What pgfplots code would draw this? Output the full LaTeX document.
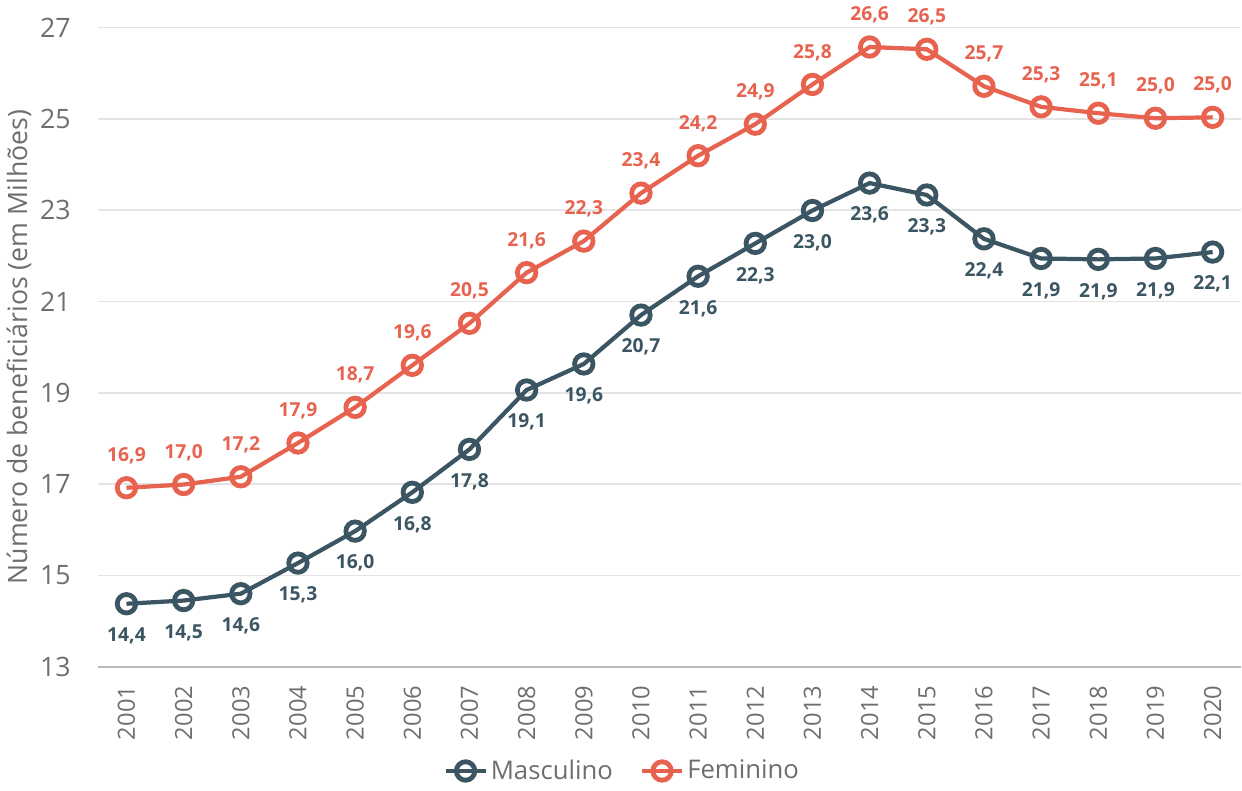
\documentclass[border=0pt]{standalone}
\usepackage{pgfplots}
\pgfplotsset{compat=1.18}
\usepackage{fontspec}
\setmainfont{Open Sans}
\definecolor{masc}{RGB}{59,85,99}
\definecolor{fem}{RGB}{231,99,79}
\definecolor{txtgray}{RGB}{110,110,110}
\definecolor{gridgray}{RGB}{228,228,228}
\begin{document}
\begin{tikzpicture}
\begin{axis}[
  scale only axis,
  width=569.5bp, height=318.5bp,
  xmin=0.5, xmax=20.5,
  ymin=13, ymax=27,
  ytick={13,15,17,19,21,23,25,27},
  xtick={1,...,20},
  xticklabels={2001,2002,2003,2004,2005,2006,2007,2008,2009,2010,2011,2012,2013,2014,2015,2016,2017,2018,2019,2020},
  major tick length=0pt,
  axis x line*=bottom,
  axis y line*=left,
  x axis line style={draw=gray!55, line width=0.8pt, -},
  y axis line style={draw=none},
  ymajorgrids,
  grid style={draw=gridgray, line width=0.8pt},
  /pgf/number format/assume math mode=true,
  tick label style={text=txtgray},
  yticklabel style={anchor=east, xshift=-10bp, font=\fontsize{13.3bp}{15bp}\selectfont},
  xticklabel style={rotate=90, anchor=east, xshift=-6bp, font=\fontsize{11.8bp}{13bp}\selectfont},
  ylabel={Número de beneficiários (em Milhões)},
  ylabel style={at={(axis description cs:-0.069,0.5)}, anchor=center, font=\fontsize{13.3bp}{15bp}\selectfont, text=txtgray},
  clip=false,
  legend style={at={(axis description cs:0.459,-0.163)}, anchor=center, draw=none, fill=none,
    font=\fontsize{12.8bp}{14bp}\selectfont, text=txtgray,
    /tikz/every even column/.append style={column sep=12bp},
    nodes={inner xsep=1.5bp}},
  legend columns=2,
  legend cell align=left,
  legend image code/.code={\draw[mark repeat=2,mark phase=2,#1] plot coordinates {(0bp,0bp) (10bp,0bp) (20bp,0bp)};},
  nodes near coords={\pgfmathprintnumber[fixed,fixed zerofill,precision=1,use comma]{\pgfplotspointmeta}},
  point meta=y,
]
\addplot[color=masc, line width=2.1bp, mark=o, mark size=4.6bp, mark options={fill=white, line width=2.4bp},
  every node near coord/.style={anchor=center, yshift=-16bp, font=\bfseries\fontsize{9.6bp}{11bp}\selectfont, text=masc}]
  coordinates {(1,14.38)(2,14.45)(3,14.6)(4,15.27)(5,15.97)(6,16.82)(7,17.76)(8,19.06)(9,19.63)(10,20.7)(11,21.55)(12,22.27)(13,22.99)(14,23.59)(15,23.33)(16,22.37)(17,21.94)(18,21.92)(19,21.94)(20,22.08)};
\addlegendentry{Masculino}
\addplot[color=fem, line width=2.1bp, mark=o, mark size=4.6bp, mark options={fill=white, line width=2.4bp},
  every node near coord/.style={anchor=center, yshift=16bp, font=\bfseries\fontsize{9.6bp}{11bp}\selectfont, text=fem}]
  coordinates {(1,16.92)(2,16.99)(3,17.16)(4,17.9)(5,18.68)(6,19.6)(7,20.52)(8,21.63)(9,22.32)(10,23.37)(11,24.19)(12,24.88)(13,25.75)(14,26.57)(15,26.52)(16,25.71)(17,25.26)(18,25.12)(19,25.01)(20,25.03)};
\addlegendentry{Feminino}
\end{axis}
\end{tikzpicture}
\end{document}
